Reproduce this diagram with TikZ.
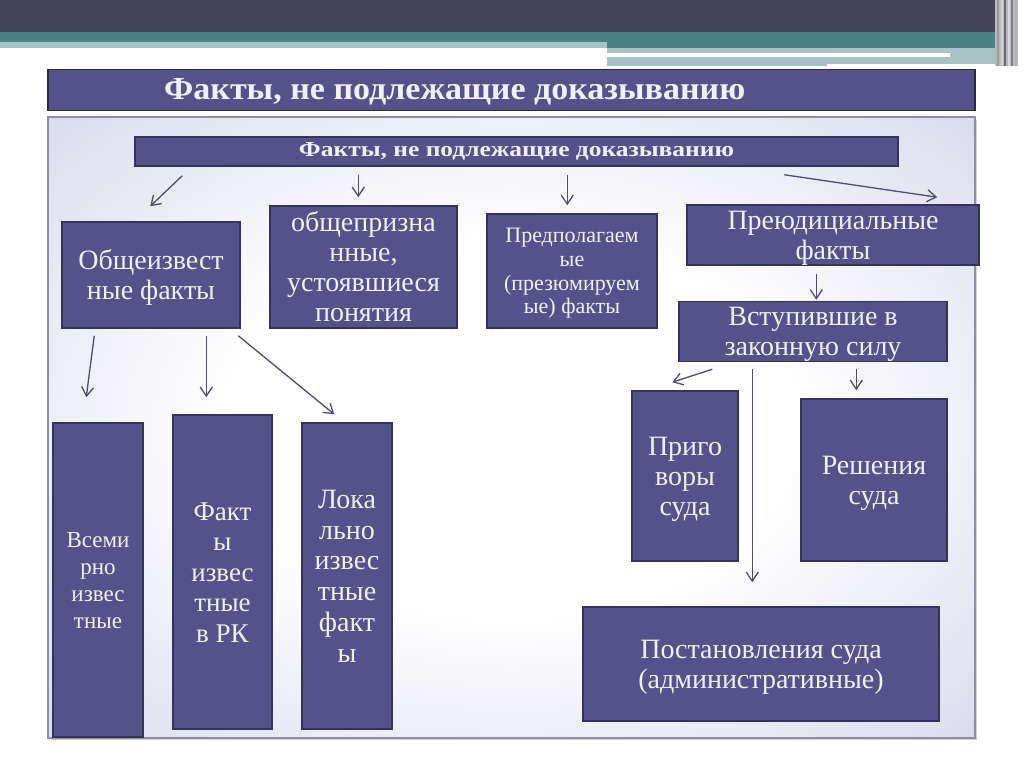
\documentclass[tikz,border=0pt]{standalone}
\usepackage{fontspec}
\setmainfont{Liberation Serif}
\usetikzlibrary{arrows.meta,calc}
\definecolor{boxfill}{HTML}{55518A}
\definecolor{boxline}{HTML}{34335A}
\definecolor{txt}{HTML}{F0F0F6}
\definecolor{arrc}{HTML}{4E4E6E}
\definecolor{darkbar}{HTML}{45455A}
\definecolor{tealbar}{HTML}{4B8285}
\definecolor{lteal}{HTML}{A6C2C4}
\definecolor{lav}{HTML}{DCDCEE}
\definecolor{lavm}{HTML}{C9C9E3}
\definecolor{lavd}{HTML}{BEBEDC}
\definecolor{panelline}{HTML}{8E8EA2}
\pgfdeclareradialshading{panelshade}{\pgfpointorigin}{color(0bp)=(white);color(15bp)=(white);color(35bp)=(lav);color(50bp)=(lavm);color(72bp)=(lavd)}
\newcommand{\bt}[1]{\raisebox{-0.11em}[\height][\depth]{\begin{tabular}{@{}c@{}}#1\end{tabular}}}
\tikzset{
  box/.style={draw=boxline, line width=1.5pt, fill=boxfill, text=txt, align=center,
    inner sep=0pt, font=\fontsize{28}{30}\selectfont},
  arr/.style={draw=arrc, line width=1.3pt, -{Straight Barb[length=9pt,width=12pt,line width=1.3pt]}},
}
\begin{document}
\begin{tikzpicture}[x=1pt,y=-1pt]
\useasboundingbox (0,0) rectangle (1024,767);
% decorative top bars
\fill[darkbar] (0,0) rectangle (995,32);
\fill[tealbar] (0,32) rectangle (1000,42);
\fill[lteal] (0,42) rectangle (607,48);
\fill[tealbar] (607,42) rectangle (1000,48);
\fill[lteal] (607,48) rectangle (1000,66);
\fill[white] (607,53) rectangle (950,57);
\fill[white] (827,64) rectangle (1000,67);
\fill[gray!55] (995,0) rectangle (1018,66);
\foreach \xx/\cc in {997/gray!80, 1001/gray!35, 1004/darkbar!80, 1008/gray!30, 1011/darkbar!70, 1015/gray!60}
  \fill[\cc] (\xx,0) rectangle ++(2,66);
% title bar
\node[draw=boxline!80!black, line width=1.5pt, fill=boxfill, minimum width=927pt, minimum height=41pt, inner sep=0pt] (title) at (511.5,90) {};
\node[anchor=base west, inner sep=0pt, text=txt] (titletext) at (164,100)
  {\resizebox{581pt}{21pt}{\fontsize{29}{30}\selectfont\bfseries Факты, не подлежащие доказыванию}};
% content panel
\fill[black!18] (51,120) rectangle (977,740);
\draw[draw=panelline, line width=1.2pt, shading=panelshade] (48,117) rectangle (975,738);
% nodes
\node[box, minimum width=763pt, minimum height=29pt] (top) at (516.5,151.5)
  {\resizebox{435pt}{14pt}{\fontsize{20}{22}\selectfont\bfseries Факты, не подлежащие доказыванию}};
\node[box, minimum width=178pt, minimum height=106pt] (obsh) at (151,275) {\bt{Общеизвест\\ные факты}};
\node[box, minimum width=187pt, minimum height=122pt] (obpr) at (363.5,267) {\bt{общепризна\\нные,\\устоявшиеся\\понятия}};
\node[box, minimum width=170pt, minimum height=114pt, font=\fontsize{22}{23.7}\selectfont] (pred) at (572,271) {\bt{Предполагаем\\ые\\(презюмируем\\ые) факты}};
\node[box, minimum width=292pt, minimum height=58pt] (prej) at (833,235) {\bt{Преюдициальные\\факты}};
\node[box, minimum width=268pt, minimum height=57pt] (vst) at (813,331.5) {\bt{Вступившие в\\законную силу}};
\node[box, minimum width=90pt, minimum height=314pt, font=\fontsize{23}{27.3}\selectfont] (vsem) at (98,580) {\bt{Всеми\\рно\\извес\\тные}};
\node[box, minimum width=99pt, minimum height=314pt, font=\fontsize{27}{30.5}\selectfont] (frk) at (222.5,572) {\bt{Факт\\ы\\извес\\тные\\в РК}};
\node[box, minimum width=90pt, minimum height=306pt, font=\fontsize{28}{30.8}\selectfont] (lok) at (347,576) {\bt{Лока\\льно\\извес\\тные\\факт\\ы}};
\node[box, minimum width=106pt, minimum height=170pt] (prig) at (685,476) {\bt{Приго\\воры\\суда}};
\node[box, minimum width=146pt, minimum height=162pt] (resh) at (874,480) {\bt{Решения\\суда}};
\node[box, minimum width=356pt, minimum height=114pt] (post) at (761,664) {\bt{Постановления суда\\(административные)}};
% connectors
\draw[arr] ($(top.south west)+(48,9)$) -- ($(obsh.north west)+(89,-15)$);
\draw[arr] ($(top.south west)+(224,8)$) -- ($(obpr.north west)+(89,-8)$);
\draw[arr] ($(top.south west)+(433,8)$) -- ($(pred.north west)+(81,-8)$);
\draw[arr] ($(top.south west)+(650,8)$) -- ($(prej.north west)+(251,-7)$);
\draw[arr] ($(prej.south west)+(130,8)$) -- ($(vst.north west)+(138,-1)$);
\draw[arr] ($(vst.south west)+(34,7)$) -- ($(prig.north west)+(41,-8)$);
\draw[arr] ($(vst.south west)+(74,7)$) -- ($(post.north west)+(170,-24)$);
\draw[arr] ($(vst.south west)+(178,7)$) -- ($(resh.north west)+(56,-8)$);
\draw[arr] ($(obsh.south west)+(33,7)$) -- ($(vsem.north west)+(34,-25)$);
\draw[arr] ($(obsh.south west)+(145,7)$) -- ($(frk.north west)+(34,-17)$);
\draw[arr] ($(obsh.south west)+(177,7)$) -- ($(lok.north west)+(33,-8)$);
\end{tikzpicture}
\end{document}
